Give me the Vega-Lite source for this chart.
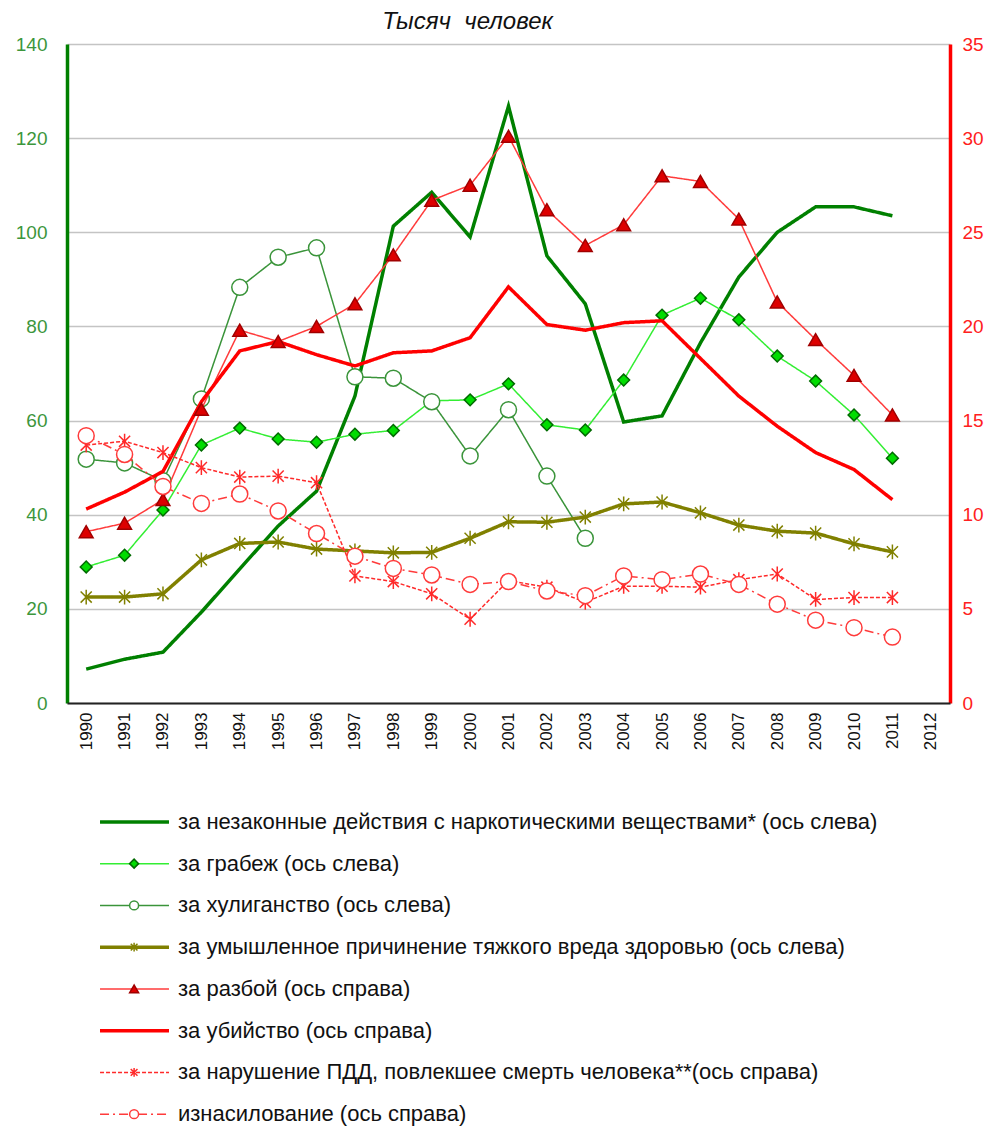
{
  "$schema": "https://vega.github.io/schema/vega-lite/v6.json",
  "padding": {"left": 15, "top": 10, "right": 0, "bottom": 0},
  "config": {"view": {"stroke": null}, "font": "Liberation Sans"},
  "spacing": 43,
  "datasets": {
    "main": [
      {"year": "1990", "drug": 7.2, "rob": 28.9, "hool": 51.8, "harm": 22.5, "raz": 9.1, "mur": 10.3, "pdd": 13.7, "rape": 14.2},
      {"year": "1991", "drug": 9.3, "rob": 31.4, "hool": 51.0, "harm": 22.5, "raz": 9.55, "mur": 11.2, "pdd": 13.9, "rape": 13.2},
      {"year": "1992", "drug": 10.8, "rob": 41.0, "hool": 47.2, "harm": 23.2, "raz": 10.8, "mur": 12.3, "pdd": 13.3, "rape": 11.5},
      {"year": "1993", "drug": 19.3, "rob": 54.8, "hool": 64.6, "harm": 30.4, "raz": 15.6, "mur": 16.0, "pdd": 12.5, "rape": 10.6},
      {"year": "1994", "drug": 28.5, "rob": 58.4, "hool": 88.3, "harm": 33.9, "raz": 19.8, "mur": 18.7, "pdd": 12.0, "rape": 11.1},
      {"year": "1995", "drug": 37.6, "rob": 56.1, "hool": 94.7, "harm": 34.2, "raz": 19.2, "mur": 19.2, "pdd": 12.05, "rape": 10.2},
      {"year": "1996", "drug": 45.0, "rob": 55.4, "hool": 96.7, "harm": 32.7, "raz": 20.0, "mur": 18.5, "pdd": 11.7, "rape": 9.0},
      {"year": "1997", "drug": 65.2, "rob": 57.1, "hool": 69.3, "harm": 32.3, "raz": 21.2, "mur": 17.9, "pdd": 6.75, "rape": 7.8},
      {"year": "1998", "drug": 101.3, "rob": 57.9, "hool": 69.0, "harm": 31.9, "raz": 23.8, "mur": 18.6, "pdd": 6.45, "rape": 7.15},
      {"year": "1999", "drug": 108.5, "rob": 64.2, "hool": 64.0, "harm": 32.0, "raz": 26.7, "mur": 18.7, "pdd": 5.8, "rape": 6.8},
      {"year": "2000", "drug": 99.0, "rob": 64.4, "hool": 52.5, "harm": 35.0, "raz": 27.5, "mur": 19.4, "pdd": 4.45, "rape": 6.3},
      {"year": "2001", "drug": 126.8, "rob": 67.8, "hool": 62.3, "harm": 38.5, "raz": 30.1, "mur": 22.1, "pdd": 6.5, "rape": 6.45},
      {"year": "2002", "drug": 95.0, "rob": 59.1, "hool": 48.2, "harm": 38.4, "raz": 26.2, "mur": 20.1, "pdd": 6.15, "rape": 5.95},
      {"year": "2003", "drug": 84.8, "rob": 58.0, "hool": 35.0, "harm": 39.5, "raz": 24.3, "mur": 19.8, "pdd": 5.35, "rape": 5.7},
      {"year": "2004", "drug": 59.7, "rob": 68.6, "harm": 42.3, "raz": 25.4, "mur": 20.2, "pdd": 6.2, "rape": 6.75},
      {"year": "2005", "drug": 61.0, "rob": 82.4, "harm": 42.7, "raz": 28.0, "mur": 20.3, "pdd": 6.2, "rape": 6.55},
      {"year": "2006", "drug": 76.5, "rob": 86.0, "harm": 40.4, "raz": 27.7, "mur": 18.3, "pdd": 6.15, "rape": 6.85},
      {"year": "2007", "drug": 90.5, "rob": 81.4, "harm": 37.8, "raz": 25.7, "mur": 16.3, "pdd": 6.55, "rape": 6.3},
      {"year": "2008", "drug": 100.0, "rob": 73.7, "harm": 36.5, "raz": 21.3, "mur": 14.7, "pdd": 6.85, "rape": 5.25},
      {"year": "2009", "drug": 105.4, "rob": 68.4, "harm": 36.1, "raz": 19.3, "mur": 13.3, "pdd": 5.5, "rape": 4.4},
      {"year": "2010", "drug": 105.4, "rob": 61.2, "harm": 33.8, "raz": 17.4, "mur": 12.4, "pdd": 5.6, "rape": 4.0},
      {"year": "2011", "drug": 103.5, "rob": 52.0, "harm": 32.1, "raz": 15.3, "mur": 10.8, "pdd": 5.6, "rape": 3.5}
    ],
    "legend": [
      {"n": 1, "s": "drug", "label": "за незаконные действия с наркотическими веществами* (ось слева)"},
      {"n": 2, "s": "rob", "label": "за грабеж (ось слева)"},
      {"n": 3, "s": "hool", "label": "за хулиганство (ось слева)"},
      {"n": 4, "s": "harm", "label": "за умышленное причинение тяжкого вреда здоровью (ось слева)"},
      {"n": 5, "s": "raz", "label": "за разбой (ось справа)"},
      {"n": 6, "s": "mur", "label": "за убийство (ось справа)"},
      {"n": 7, "s": "pdd", "label": "за нарушение ПДД, повлекшее смерть человека**(ось справа)"},
      {"n": 8, "s": "rape", "label": "изнасилование (ось справа)"}
    ]
  },
  "vconcat": [
    {
      "width": 883,
      "height": 659,
      "title": {"text": "Тысяч\u00a0 человек", "fontSize": 24, "fontStyle": "italic", "fontWeight": "normal", "color": "#111111", "offset": 1, "dx": -41},
      "data": {"name": "main"},
      "encoding": {
        "x": {
          "field": "year", "type": "ordinal", "title": null,
          "scale": {"type": "point", "padding": 0.5, "domain": ["1990","1991","1992","1993","1994","1995","1996","1997","1998","1999","2000","2001","2002","2003","2004","2005","2006","2007","2008","2009","2010","2011","2012"]},
          "axis": {"labelAngle": 270, "labelAlign": "right", "labelBaseline": "middle", "labelFontSize": 17, "labelColor": "#111111", "labelPadding": 9, "ticks": false, "tickSize": 0, "domainColor": "#222222", "domainWidth": 2, "grid": false, "minExtent": 55, "maxExtent": 55, "zindex": 1}
        }
      },
      "layer": [
        {
          "transform": [{"fold": ["drug", "rob", "hool", "harm"], "as": ["s", "v"]}],
          "encoding": {
            "y": {
              "field": "v", "type": "quantitative", "title": null,
              "scale": {"domain": [0, 140], "nice": false, "zero": true},
              "axis": {"orient": "left", "values": [0, 20, 40, 60, 80, 100, 120, 140], "labelFontSize": 19, "labelColor": "#3c963c", "labelPadding": 20, "ticks": false, "tickSize": 0, "domainColor": "#008000", "domainWidth": 3.5, "grid": true, "gridColor": "#c4c4c4", "gridWidth": 1.5, "minExtent": 50, "maxExtent": 50}
            }
          },
          "layer": [
            {
              "mark": {"type": "line"},
              "encoding": {
                "color": {"field": "s", "type": "nominal", "legend": null, "scale": {"domain": ["drug","rob","hool","harm","raz","mur","pdd","rape"], "range": ["#008000","#33ee33","#3a943a","#808000","#ff3b3b","#ff0000","#ff2a2a","#ff3b3b"]}},
                "strokeWidth": {"field": "s", "type": "nominal", "legend": null, "scale": {"type": "ordinal", "domain": ["drug","rob","hool","harm","raz","mur","pdd","rape"], "range": [3.5, 1.5, 1.5, 3.5, 1.5, 3.5, 1.5, 1.5]}},
                "strokeDash": {"field": "s", "type": "nominal", "legend": null, "scale": {"domain": ["drug","rob","hool","harm","raz","mur","pdd","rape"], "range": [[1,0],[1,0],[1,0],[1,0],[1,0],[1,0],[4,2],[9,4,2,4]]}}
              }
            },
            {
              "transform": [{"filter": {"field": "s", "oneOf": ["rob","hool","harm"]}}],
              "mark": {"type": "point", "opacity": 1, "filled": true, "strokeWidth": 1.5},
              "encoding": {
                "shape": {"field": "s", "type": "nominal", "legend": null, "scale": {"domain": ["rob","hool","harm","raz","pdd","rape"], "range": ["diamond","circle","M0,-1V1M-0.75,-0.75L0.75,0.75M-0.75,0.75L0.75,-0.75","triangle-up","M0,-1V1M-0.75,-0.75L0.75,0.75M-0.75,0.75L0.75,-0.75","circle"]}},
                "fill": {"field": "s", "type": "nominal", "legend": null, "scale": {"domain": ["rob","hool","harm","raz","pdd","rape"], "range": ["#00dd00","#ffffff","#808000","#dd0000","#ff2a2a","#ffffff"]}},
                "stroke": {"field": "s", "type": "nominal", "legend": null, "scale": {"domain": ["rob","hool","harm","raz","pdd","rape"], "range": ["#006a00","#3a943a","#808000","#a00000","#ff2a2a","#ff3b3b"]}},
                "size": {"field": "s", "type": "nominal", "legend": null, "scale": {"type": "ordinal", "domain": ["rob","hool","harm","raz","pdd","rape"], "range": [140, 256, 220, 190, 220, 256]}}
              }
            }
          ]
        },
        {
          "transform": [{"fold": ["raz", "mur", "pdd", "rape"], "as": ["s", "v"]}],
          "encoding": {
            "y": {
              "field": "v", "type": "quantitative", "title": null,
              "scale": {"domain": [0, 35], "nice": false, "zero": true},
              "axis": {"orient": "right", "values": [0, 5, 10, 15, 20, 25, 30, 35], "labelFontSize": 19, "labelColor": "#ff2020", "labelPadding": 12, "ticks": false, "tickSize": 0, "domainColor": "#ff0000", "domainWidth": 3.5, "grid": false, "minExtent": 50, "maxExtent": 50}
            }
          },
          "layer": [
            {
              "mark": {"type": "line"},
              "encoding": {
                "color": {"field": "s", "type": "nominal", "legend": null, "scale": {"domain": ["drug","rob","hool","harm","raz","mur","pdd","rape"], "range": ["#008000","#33ee33","#3a943a","#808000","#ff3b3b","#ff0000","#ff2a2a","#ff3b3b"]}},
                "strokeWidth": {"field": "s", "type": "nominal", "legend": null, "scale": {"type": "ordinal", "domain": ["drug","rob","hool","harm","raz","mur","pdd","rape"], "range": [3.5, 1.5, 1.5, 3.5, 1.5, 3.5, 1.5, 1.5]}},
                "strokeDash": {"field": "s", "type": "nominal", "legend": null, "scale": {"domain": ["drug","rob","hool","harm","raz","mur","pdd","rape"], "range": [[1,0],[1,0],[1,0],[1,0],[1,0],[1,0],[4,2],[9,4,2,4]]}}
              }
            },
            {
              "transform": [{"filter": {"field": "s", "oneOf": ["raz","pdd","rape"]}}],
              "mark": {"type": "point", "opacity": 1, "filled": true, "strokeWidth": 1.5},
              "encoding": {
                "shape": {"field": "s", "type": "nominal", "legend": null, "scale": {"domain": ["rob","hool","harm","raz","pdd","rape"], "range": ["diamond","circle","M0,-1V1M-0.75,-0.75L0.75,0.75M-0.75,0.75L0.75,-0.75","triangle-up","M0,-1V1M-0.75,-0.75L0.75,0.75M-0.75,0.75L0.75,-0.75","circle"]}},
                "fill": {"field": "s", "type": "nominal", "legend": null, "scale": {"domain": ["rob","hool","harm","raz","pdd","rape"], "range": ["#00dd00","#ffffff","#808000","#dd0000","#ff2a2a","#ffffff"]}},
                "stroke": {"field": "s", "type": "nominal", "legend": null, "scale": {"domain": ["rob","hool","harm","raz","pdd","rape"], "range": ["#006a00","#3a943a","#808000","#a00000","#ff2a2a","#ff3b3b"]}},
                "size": {"field": "s", "type": "nominal", "legend": null, "scale": {"type": "ordinal", "domain": ["rob","hool","harm","raz","pdd","rape"], "range": [140, 256, 220, 190, 220, 256]}}
              }
            }
          ]
        }
      ],
      "resolve": {"scale": {"y": "independent"}, "axis": {"y": "independent"}}
    },
    {
      "width": 883,
      "height": 334,
      "data": {"name": "legend"},
      "encoding": {
        "y": {"field": "n", "type": "ordinal", "axis": null, "scale": {"type": "point", "padding": 0.5}}
      },
      "layer": [
        {
          "mark": {"type": "rule"},
          "encoding": {
            "x": {"datum": 3.74, "type": "quantitative", "scale": {"domain": [0, 100], "nice": false}, "axis": null},
            "x2": {"datum": 11.55},
            "color": {"field": "s", "type": "nominal", "legend": null, "scale": {"domain": ["drug","rob","hool","harm","raz","mur","pdd","rape"], "range": ["#008000","#33ee33","#3a943a","#808000","#ff3b3b","#ff0000","#ff2a2a","#ff3b3b"]}},
            "strokeWidth": {"field": "s", "type": "nominal", "legend": null, "scale": {"type": "ordinal", "domain": ["drug","rob","hool","harm","raz","mur","pdd","rape"], "range": [3.5, 1.5, 1.5, 3.5, 1.5, 3.5, 1.5, 1.5]}},
            "strokeDash": {"field": "s", "type": "nominal", "legend": null, "scale": {"domain": ["drug","rob","hool","harm","raz","mur","pdd","rape"], "range": [[1,0],[1,0],[1,0],[1,0],[1,0],[1,0],[4,2],[9,4,2,4]]}}
          }
        },
        {
          "transform": [{"filter": {"field": "s", "oneOf": ["rob","hool","harm","raz","pdd","rape"]}}],
          "mark": {"type": "point", "opacity": 1, "filled": true, "strokeWidth": 1.5, "size": 80},
          "encoding": {
            "x": {"datum": 7.6, "type": "quantitative"},
            "shape": {"field": "s", "type": "nominal", "legend": null, "scale": {"domain": ["rob","hool","harm","raz","pdd","rape"], "range": ["diamond","circle","M0,-1V1M-0.75,-0.75L0.75,0.75M-0.75,0.75L0.75,-0.75","triangle-up","M0,-1V1M-0.75,-0.75L0.75,0.75M-0.75,0.75L0.75,-0.75","circle"]}},
            "fill": {"field": "s", "type": "nominal", "legend": null, "scale": {"domain": ["rob","hool","harm","raz","pdd","rape"], "range": ["#00dd00","#ffffff","#808000","#dd0000","#ff2a2a","#ffffff"]}},
            "stroke": {"field": "s", "type": "nominal", "legend": null, "scale": {"domain": ["rob","hool","harm","raz","pdd","rape"], "range": ["#006a00","#3a943a","#808000","#a00000","#ff2a2a","#ff3b3b"]}}
          }
        },
        {
          "mark": {"type": "text", "align": "left", "baseline": "middle", "fontSize": 22, "color": "#111111"},
          "encoding": {
            "x": {"datum": 12.57, "type": "quantitative"},
            "text": {"field": "label"}
          }
        }
      ]
    }
  ]
}
